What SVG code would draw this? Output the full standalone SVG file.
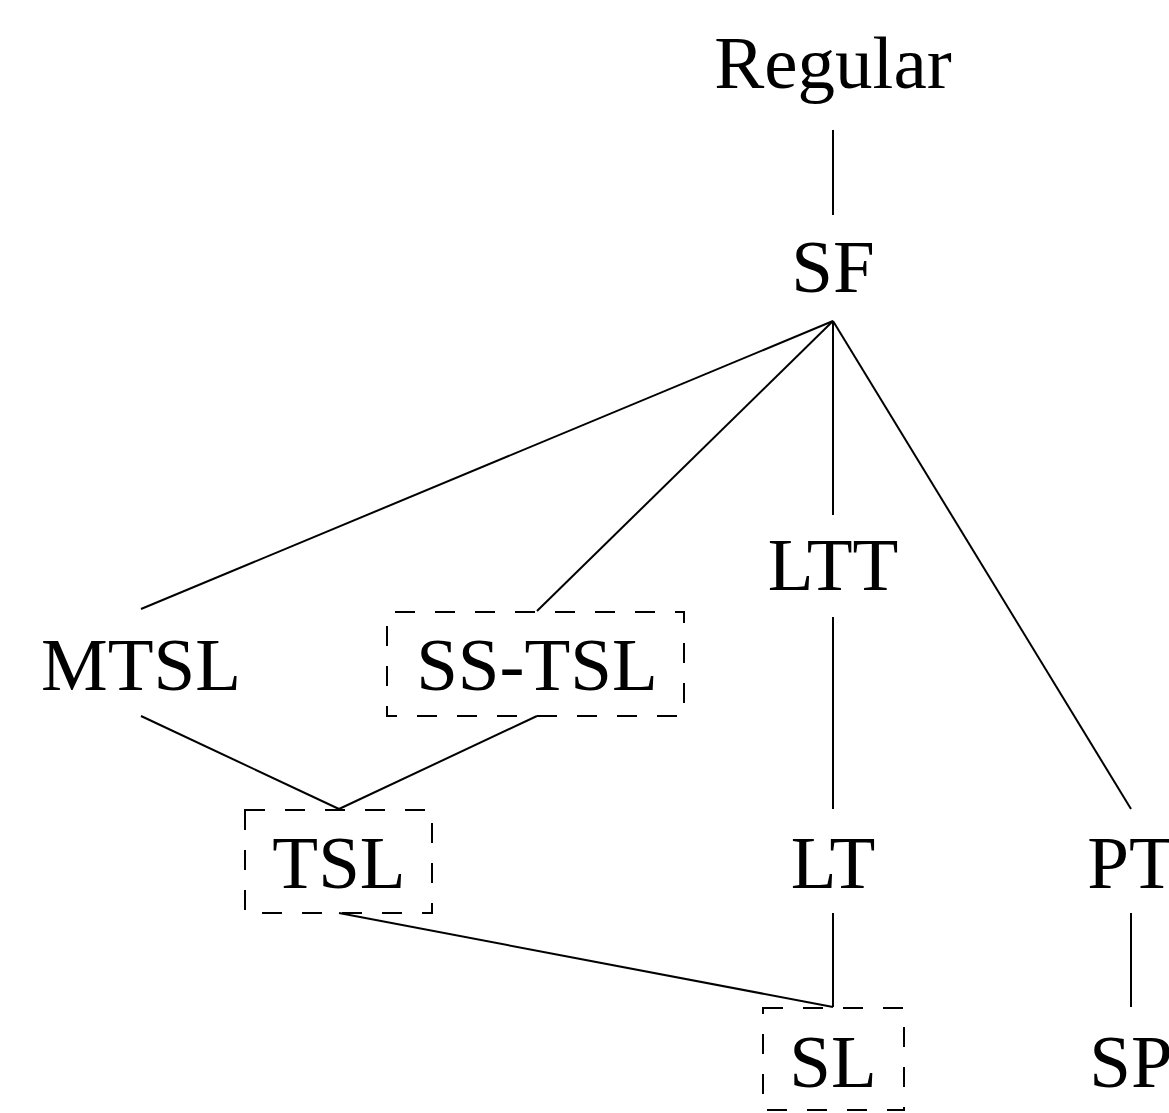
<svg xmlns="http://www.w3.org/2000/svg" width="1169" height="1113" viewBox="0 0 1169 1113">
<style>
text{font-family:"Liberation Serif","Times New Roman",serif;font-size:75px;fill:#000;text-anchor:middle}
.e{stroke:#000;stroke-width:2;fill:none}
.box{stroke:#000;stroke-width:2;fill:none;stroke-dasharray:20 20}
</style>
<rect width="1169" height="1113" fill="#fff"/>
<g id="connectors">
<line class="e" x1="833" y1="130" x2="833" y2="215"/>
<line class="e" x1="833" y1="321" x2="141" y2="609"/>
<line class="e" x1="833" y1="321" x2="537" y2="611"/>
<line class="e" x1="833" y1="321" x2="833" y2="515"/>
<line class="e" x1="833" y1="321" x2="1131" y2="809"/>
<line class="e" x1="141" y1="716" x2="339" y2="809"/>
<line class="e" x1="537" y1="716" x2="339" y2="809"/>
<line class="e" x1="833" y1="617" x2="833" y2="809"/>
<line class="e" x1="339" y1="913" x2="833" y2="1007"/>
<line class="e" x1="833" y1="913" x2="833" y2="1007"/>
<line class="e" x1="1131" y1="913" x2="1131" y2="1007"/>
</g>
<g id="regular"><text x="833" y="88">Regular</text></g>
<g id="sf"><text x="833" y="292">SF</text></g>
<g id="ltt"><text x="833" y="590">LTT</text></g>
<g id="mtsl"><text x="141" y="690">MTSL</text></g>
<g id="sstsl"><rect class="box" x="387" y="612" width="297" height="104" stroke-dashoffset="32"/><text x="537" y="690">SS-TSL</text></g>
<g id="tsl"><rect class="box" x="245" y="810" width="187" height="103"/><text x="339" y="888">TSL</text></g>
<g id="lt"><text x="833" y="888">LT</text></g>
<g id="pt"><text x="1131" y="888">PT</text></g>
<g id="sl"><rect class="box" x="763" y="1008" width="141" height="102"/><text x="833" y="1087">SL</text></g>
<g id="sp"><text x="1131" y="1087">SP</text></g>
</svg>
